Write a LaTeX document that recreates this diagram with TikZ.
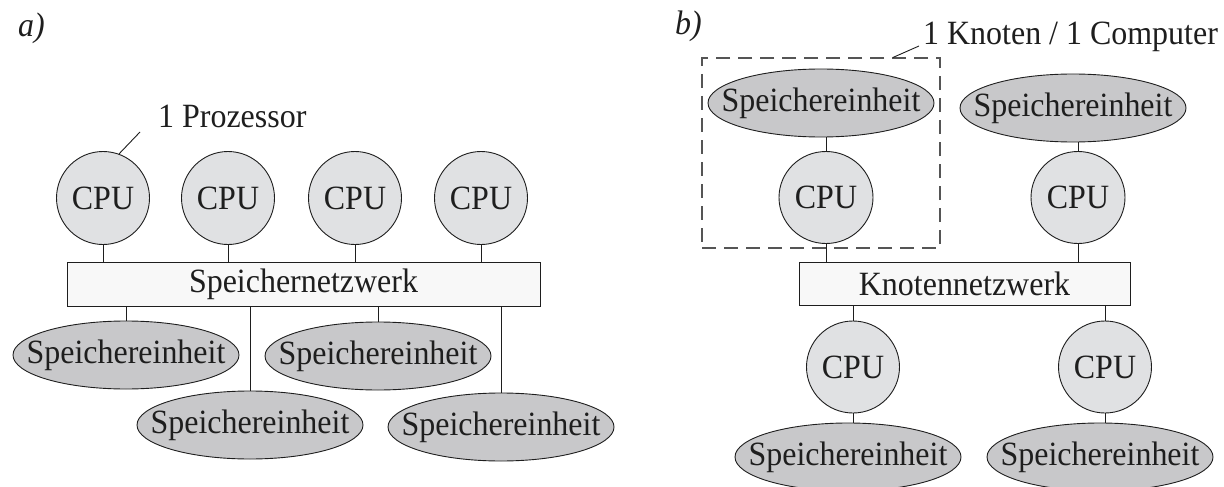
\documentclass[tikz,border=0pt]{standalone}
\usepackage{fontspec}
\setmainfont{Liberation Serif}[FakeStretch=0.94]
\usetikzlibrary{shapes.geometric,backgrounds}
\definecolor{cpufill}{RGB}{224,225,227}
\definecolor{memfill}{RGB}{200,200,202}
\definecolor{netfill}{RGB}{248,248,248}
\definecolor{ink}{RGB}{30,30,30}
\definecolor{dashink}{RGB}{85,85,85}
\begin{document}
\begin{tikzpicture}[x=1pt,y=-1pt,
  every node/.style={font=\fontsize{34}{40}\selectfont, text=ink},
  cpu/.style={ellipse, draw=ink, fill=cpufill, line width=0.9pt, minimum width=93pt, minimum height=93pt, inner sep=0pt},
  mem/.style={ellipse, draw=ink, fill=memfill, line width=0.9pt, minimum width=226pt, minimum height=68pt, inner xsep=-30pt, inner ysep=0pt},
  netbox/.style={rectangle, draw=ink, fill=netfill, line width=0.9pt, inner sep=0pt},
  conn/.style={draw=ink, line width=0.9pt},
  dashbox/.style={rectangle, draw=dashink, dash pattern=on 14pt off 8pt, line width=1.1pt, inner sep=0pt},
  lbl/.style={anchor=base west, inner sep=0pt},
  panel/.style={anchor=base west, inner sep=0pt, font=\fontsize{34}{40}\selectfont\itshape}
]
\useasboundingbox (0,0) rectangle (1224,487);

% ---------- panel a ----------
\node[panel] (pa) at (18,37) {a)};
\node[cpu] (c1) at (103,198) {CPU};
\node[cpu] (c2) at (228,198) {CPU};
\node[cpu] (c3) at (355,198) {CPU};
\node[cpu] (c4) at (481,198) {CPU};
\node[netbox, minimum width=473pt, minimum height=44pt] (net) at (303.5,284) {Speichernetzwerk};
\node[mem] (e1) at (126,355) {Speichereinheit};
\node[mem] (e2) at (250,425) {Speichereinheit};
\node[mem] (e3) at (378,356) {Speichereinheit};
\node[mem] (e4) at (501,427) {Speichereinheit};
\node[lbl] (proz) at (158,128) {1 Prozessor};
\coordinate (pz) at (140,132);
\draw[conn] (pz) -- (c1.70);

% ---------- panel b ----------
\node[panel] (pb) at (675,35) {b)};
\node[mem] (m1) at (821,103) {Speichereinheit};
\node[mem] (m2) at (1073,108) {Speichereinheit};
\node[cpu, minimum width=94pt, minimum height=92pt] (k1) at (826,197.5) {CPU};
\node[cpu, minimum width=94pt, minimum height=92pt] (k2) at (1078,197.5) {CPU};
\node[netbox, minimum width=331pt, minimum height=43pt] (knet) at (964.5,283.5) {Knotennetzwerk};
\node[cpu, minimum width=93pt, minimum height=92pt] (k3) at (853,367) {CPU};
\node[cpu, minimum width=93pt, minimum height=92pt] (k4) at (1105,367) {CPU};
\node[mem] (m3) at (848,457) {Speichereinheit};
\node[mem] (m4) at (1100,457) {Speichereinheit};
\node[dashbox, minimum width=238pt, minimum height=190pt] (kbox) at (821,153) {};
\node[lbl] (klab) at (923,45) {1 Knoten / 1 Computer};
\coordinate (kz) at (919,46);
\draw[conn] ([xshift=72pt]kbox.north) -- (kz);

% ---------- connectors (behind shapes) ----------
\begin{scope}[on background layer]
  \foreach \c in {c1,c2,c3,c4} { \draw[conn] (\c) -- (\c |- net); }
  \foreach \e in {e1,e2,e3,e4} { \draw[conn] (\e |- net) -- (\e); }
  \draw[conn] (k1) -- (k1 |- m1);
  \draw[conn] (k2) -- (k2 |- m2);
  \draw[conn] (k1) -- (k1 |- knet);
  \draw[conn] (k2) -- (k2 |- knet);
  \draw[conn] (k3 |- knet) -- (k3);
  \draw[conn] (k4 |- knet) -- (k4);
  \draw[conn] (k3) -- (k3 |- m3);
  \draw[conn] (k4) -- (k4 |- m4);
\end{scope}
\end{tikzpicture}
\end{document}
